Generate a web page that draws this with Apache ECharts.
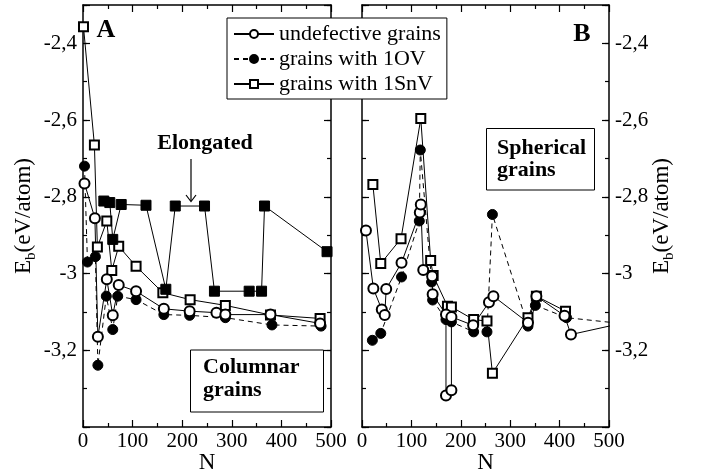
<!DOCTYPE html>
<html>
<head>
<meta charset="utf-8">
<script src="https://cdn.jsdelivr.net/npm/echarts@6.0.0/dist/echarts.min.js"></script>
<style>
    html, body { margin: 0; padding: 0; background: #fff; }
    #chart { width: 701px; height: 472px; }
</style>
</head>
<body>
<div id="chart"></div>
<script>
// 面板 A: 柱状晶粒
var aUndefN = [3, 24, 30, 48, 60, 72, 107, 163, 215, 269, 287, 378, 478];
var aUndefE = [-2.765, -2.856, -3.165, -3.015, -3.109, -3.03, -3.046, -3.092, -3.098, -3.102, -3.107, -3.107, -3.13];
var aOvN = [3, 9, 25, 30, 47, 60, 70, 107, 163, 215, 287, 381, 480];
var aOvE = [-2.72, -2.97, -2.956, -3.239, -3.059, -3.146, -3.059, -3.068, -3.107, -3.109, -3.115, -3.134, -3.137];
var aSnvN = [1, 23, 29, 48, 58, 72, 107, 161, 216, 287, 378, 478];
var aSnvE = [-2.357, -2.665, -2.931, -2.863, -2.992, -2.929, -2.981, -3.05, -3.068, -3.083, -3.108, -3.117];
var aElongN = [42, 54, 60, 77, 127, 167, 186, 245, 265, 335, 360, 366, 492];
var aElongE = [-2.811, -2.815, -2.911, -2.82, -2.822, -3.041, -2.824, -2.824, -3.046, -3.046, -3.046, -2.824, -2.943];

// 面板 B: 球形晶粒
var bUndefN = [8, 23, 40, 46, 49, 80, 117, 119, 124, 142, 143, 170, 170, 181, 181, 225, 257, 266, 336, 353, 410, 423, 560];
var bUndefE = [-2.888, -3.039, -3.094, -3.108, -3.04, -2.972, -2.841, -2.82, -2.991, -3.007, -3.054, -3.107, -3.318, -3.304, -3.113, -3.135, -3.075, -3.059, -3.128, -3.059, -3.11, -3.159, -3.12];
var bOvN = [21, 38, 80, 116, 118, 141, 143, 170, 181, 226, 253, 264, 336, 351, 414, 560];
var bOvE = [-3.174, -3.156, -3.009, -2.863, -2.678, -3.022, -3.069, -3.12, -3.126, -3.152, -3.152, -2.846, -3.137, -3.083, -3.115, -3.135];
var bSnvN = [22, 38, 79, 119, 139, 144, 173, 181, 226, 253, 264, 336, 353, 412];
var bSnvE = [-2.768, -2.974, -2.909, -2.596, -2.966, -3.005, -3.085, -3.087, -3.12, -3.124, -3.26, -3.115, -3.059, -3.098];

var legendNames = ['undefective grains', 'grains with 1OV', 'grains with 1SnV'];
var xMin = 0, xMax = 500, xStep = 100;
var yMin = -3.4, yMax = -2.3, yStep = 0.2, yMinorStep = 0.1;

var FONT = '"Liberation Serif", "Times New Roman", serif';

let zip = (xs, ys) => xs.map((x, i) => [x, ys[i]]);

// 纵轴刻度: -2,4 这种逗号写法, 顶和底不显示
let fmtE = v => {
    let k = Math.round(v * 10);
    if (k % 2 !== 0 || k === Math.round(yMin * 10)) return '';
    return String(k / 10).replace('.', ',');
};

let xAxisOf = (grid, pos, main) => ({
    type: 'value', gridIndex: grid, position: pos,
    min: xMin, max: xMax, interval: xStep,
    name: main ? 'N' : '', nameLocation: 'middle', nameGap: 24, nameMoveOverlap: false,
    nameTextStyle: { fontFamily: FONT, fontSize: 23, color: '#000' },
    axisLine: { show: true, onZero: false, lineStyle: { color: '#000', width: 1.5 } },
    axisTick: { show: true, inside: true, length: 7, lineStyle: { color: '#000', width: 1.2 } },
    minorTick: { show: true, splitNumber: 2, length: 4, lineStyle: { color: '#000', width: 1.2 } },
    axisLabel: { show: main, margin: 4, fontFamily: FONT, fontSize: 21, color: '#000' },
    splitLine: { show: false }, minorSplitLine: { show: false }
});

let yAxisOf = (grid, pos, minor, labels) => ({
    type: 'value', gridIndex: grid, position: pos,
    min: yMin, max: yMax, interval: minor ? yMinorStep : yStep,
    name: labels ? 'E{sub|b}(eV/atom)' : '', nameLocation: 'middle', nameRotate: 90,
    nameGap: pos == 'left' ? 44 : 38, nameMoveOverlap: false,
    nameTextStyle: {
        fontFamily: FONT, fontSize: 23, color: '#000', lineHeight: 30,
        rich: { sub: { fontFamily: FONT, fontSize: 15, color: '#000', lineHeight: 15, verticalAlign: 'bottom' } }
    },
    axisLine: { show: !minor, onZero: false, lineStyle: { color: '#000', width: 1.5 } },
    axisTick: { show: true, inside: true, length: minor ? 4 : 7, lineStyle: { color: '#000', width: 1.2 } },
    axisLabel: { show: labels, margin: 6, formatter: fmtE, fontFamily: FONT, fontSize: 21, color: '#000' },
    splitLine: { show: false }
});

let lineSeries = (name, xs, ys, xi, yi, symbol, size, dashed) => ({
    name: name, type: 'line', xAxisIndex: xi, yAxisIndex: yi,
    data: zip(xs, ys),
    symbol: symbol, symbolSize: size, showAllSymbol: true,
    lineStyle: { color: '#000', width: 1, type: dashed ? [5, 4] : 'solid' },
    itemStyle: { color: '#000', borderColor: '#000', borderWidth: 1 },
    emphasis: { disabled: true },
    clip: true, animation: false
});

let chart = echarts.init(document.getElementById('chart'), null, { renderer: 'canvas' });

let option = {
    backgroundColor: '#fff',
    animation: false,
    grid: [
        { left: 83, top: 5, width: 248, height: 422, outerBoundsMode: 'none', containLabel: false },
        { left: 362, top: 5, width: 247, height: 422, outerBoundsMode: 'none', containLabel: false }
    ],
    xAxis: [
        xAxisOf(0, 'bottom', true),
        xAxisOf(0, 'top', false),
        xAxisOf(1, 'bottom', true),
        xAxisOf(1, 'top', false)
    ],
    yAxis: [
        yAxisOf(0, 'left', false, true),   // 0
        yAxisOf(0, 'left', true, false),   // 1
        yAxisOf(0, 'right', false, false), // 2
        yAxisOf(0, 'right', true, false),  // 3
        yAxisOf(1, 'left', false, false),  // 4
        yAxisOf(1, 'left', true, false),   // 5
        yAxisOf(1, 'right', false, true),  // 6
        yAxisOf(1, 'right', true, false)   // 7
    ],
    legend: {
        data: legendNames,
        orient: 'vertical', left: 227, top: 18,
        backgroundColor: '#fff', borderColor: '#000', borderWidth: 1, borderRadius: 0,
        padding: [5, 6, 4, 6],
        itemWidth: 40, itemHeight: 10, itemGap: 3,
        selectedMode: false,
        textStyle: { fontFamily: FONT, fontSize: 22, color: '#000', lineHeight: 22 }
    },
    series: [
        lineSeries('grains with 1SnV', aSnvN, aSnvE, 0, 0, 'emptyRect', 9, false),
        lineSeries('Elongated', aElongN, aElongE, 0, 0, 'rect', 10, false),
        lineSeries('grains with 1OV', aOvN, aOvE, 0, 0, 'circle', 10, true),
        lineSeries('undefective grains', aUndefN, aUndefE, 0, 0, 'emptyCircle', 10, false),
        lineSeries('grains with 1SnV', bSnvN, bSnvE, 2, 6, 'emptyRect', 9, false),
        lineSeries('grains with 1OV', bOvN, bOvE, 2, 6, 'circle', 10, true),
        lineSeries('undefective grains', bUndefN, bUndefE, 2, 6, 'emptyCircle', 10, false)
    ],
    graphic: [
        { type: 'text', x: 106, y: 30, style: { text: 'A', fontFamily: FONT, fontWeight: 'bold', fontSize: 26, fill: '#000', align: 'center', verticalAlign: 'middle', textAlign: 'center', textVerticalAlign: 'middle' } },
        { type: 'text', x: 582, y: 34, style: { text: 'B', fontFamily: FONT, fontWeight: 'bold', fontSize: 26, fill: '#000', align: 'center', verticalAlign: 'middle', textAlign: 'center', textVerticalAlign: 'middle' } },
        { type: 'text', x: 205, y: 143, style: { text: 'Elongated', fontFamily: FONT, fontWeight: 'bold', fontSize: 22, fill: '#000', align: 'center', verticalAlign: 'middle', textAlign: 'center', textVerticalAlign: 'middle' } },
        // 箭头
        { type: 'line', shape: { x1: 191, y1: 159, x2: 191, y2: 201 }, style: { stroke: '#000', lineWidth: 1.2 } },
        { type: 'polyline', shape: { points: [[186, 195], [191, 201.5], [196, 195]] }, style: { stroke: '#000', fill: null, lineWidth: 1.2 } },
        // 标注框
        { type: 'rect', shape: { x: 190.5, y: 350, width: 133, height: 62 }, style: { fill: '#fff', stroke: '#000', lineWidth: 1 } },
        { type: 'text', x: 203, y: 367, style: { text: 'Columnar', fontFamily: FONT, fontWeight: 'bold', fontSize: 22, fill: '#000', align: 'left', verticalAlign: 'middle', textAlign: 'left', textVerticalAlign: 'middle' } },
        { type: 'text', x: 203, y: 390, style: { text: 'grains', fontFamily: FONT, fontWeight: 'bold', fontSize: 22, fill: '#000', align: 'left', verticalAlign: 'middle', textAlign: 'left', textVerticalAlign: 'middle' } },
        { type: 'rect', shape: { x: 486.5, y: 128.5, width: 108, height: 61.5 }, style: { fill: '#fff', stroke: '#000', lineWidth: 1 } },
        { type: 'text', x: 497, y: 148, style: { text: 'Spherical', fontFamily: FONT, fontWeight: 'bold', fontSize: 22, fill: '#000', align: 'left', verticalAlign: 'middle', textAlign: 'left', textVerticalAlign: 'middle' } },
        { type: 'text', x: 497, y: 170, style: { text: 'grains', fontFamily: FONT, fontWeight: 'bold', fontSize: 22, fill: '#000', align: 'left', verticalAlign: 'middle', textAlign: 'left', textVerticalAlign: 'middle' } }
    ]
};

chart.setOption(option);
</script>
</body>
</html>
